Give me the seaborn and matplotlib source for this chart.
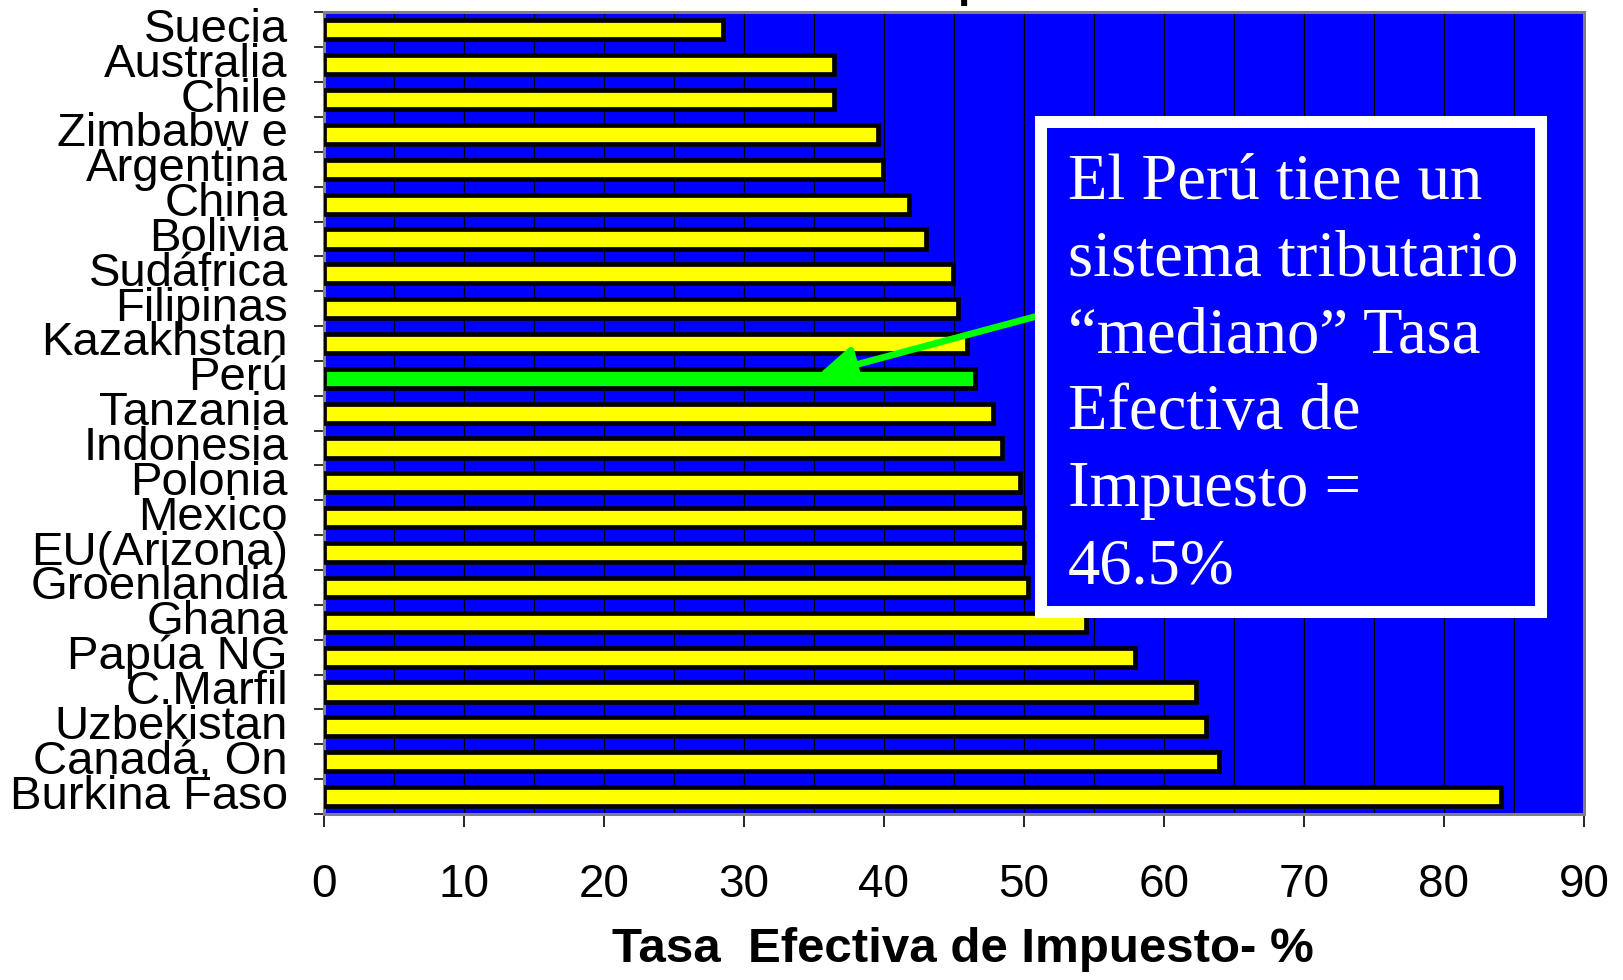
import matplotlib
matplotlib.use("Agg")
import matplotlib.pyplot as plt
import seaborn as sns
import pandas as pd
from matplotlib.patches import Rectangle
from matplotlib.ticker import MultipleLocator, FixedLocator, NullFormatter

countries = ["Suecia", "Australia", "Chile", "Zimbabw e", "Argentina", "China",
             "Bolivia", "Sudáfrica", "Filipinas", "Kazakhstan", "Perú", "Tanzania",
             "Indonesia", "Polonia", "Mexico", "EU(Arizona)", "Groenlandia", "Ghana",
             "Papúa NG", "C.Marfil", "Uzbekistan", "Canadá, On", "Burkina Faso"]
rates = [28.5, 36.4, 36.4, 39.6, 39.9, 41.8, 43.0, 44.9, 45.3, 45.9, 46.5, 47.8,
         48.4, 49.7, 50.0, 50.0, 50.3, 54.4, 57.9, 62.3, 63.0, 63.9, 84.1]
highlight = "Perú"
xticks = [0, 10, 20, 30, 40, 50, 60, 70, 80, 90]
xlabel = "Tasa  Efectiva de Impuesto- %"
note_lines = ["El Perú tiene un", "sistema tributario", "\u201cmediano\u201d Tasa",
              "Efectiva de", "Impuesto =", "46.5%"]

sns.set_theme(style="white")
plt.rcParams["font.family"] = ["Liberation Sans", "DejaVu Sans"]
plt.rcParams["text.color"] = "black"
plt.rcParams["axes.labelcolor"] = "black"
plt.rcParams["xtick.color"] = "black"
plt.rcParams["ytick.color"] = "black"

df = pd.DataFrame({"pais": countries, "tasa": rates})
palette = {c: ("#00FF00" if c == highlight else "#FFFF00") for c in countries}

fig = plt.figure(figsize=(16.23, 9.80), dpi=100)
ax = fig.add_axes([324 / 1623, 1 - 814 / 980, 1260 / 1623, (814 - 12.4) / 980])

sns.barplot(data=df, y="pais", x="tasa", hue="pais", palette=palette, legend=False,
            orient="h", width=0.55, edgecolor="black", linewidth=3.4, saturation=1,
            ax=ax, zorder=3)

ax.set_facecolor("#0000FF")
ax.set_xlim(0, 90)
ax.set_ylim(len(countries) - 0.5, -0.5)
ax.xaxis.set_major_locator(FixedLocator(xticks))
ax.xaxis.set_minor_locator(MultipleLocator(5))
ax.grid(False)
ax.set_axisbelow(True)
for v in range(0, 91, 5):
    ax.axvline(v, color="black", lw=0.9, zorder=1)

ax.tick_params(axis="x", which="major", direction="out", length=9, width=1.2,
               color="black", labelcolor="black", labelsize=33, pad=26, bottom=True)
ax.tick_params(axis="x", which="minor", length=0)
ax.yaxis.set_minor_locator(FixedLocator([i - 0.5 for i in range(len(countries) + 1)]))
ax.yaxis.set_minor_formatter(NullFormatter())
ax.tick_params(axis="y", which="major", length=0, labelsize=34, labelcolor="black", pad=26)
ax.tick_params(axis="y", which="minor", direction="out", length=7.5, width=1.3,
               color="#202020", left=True)
for lab in ax.get_yticklabels():
    lab.set_verticalalignment("center")

ax.set_ylabel("")
ax.set_xlabel(xlabel, fontsize=35.5, fontweight="bold", color="black")
ax.xaxis.set_label_coords((963 - 324) / 1260, -(950 - 814) / 802)
ax.xaxis.label.set_verticalalignment("center")

for side in ["left", "right", "top", "bottom"]:
    ax.spines[side].set_visible(True)
    ax.spines[side].set_color("#808080")
    ax.spines[side].set_linewidth(2.2)

# green arrow pointing to Peru
ax.annotate("", xy=(35.3, 9.9), xytext=(52.0, 8.1),
            arrowprops=dict(arrowstyle="-|>,head_length=1.1,head_width=0.55",
                            color="#00FF00", lw=4.8, mutation_scale=20,
                            shrinkA=0, shrinkB=0),
            zorder=5)

# annotation box
x0, x1 = (1035 - 324) / 1260, (1547 - 324) / 1260
y0, y1 = 1 - (618 - 12.4) / 802, 1 - (116 - 12.4) / 802
bw = 12 / 1260
bh = 12 / 802
ax.add_patch(Rectangle((x0, y0), x1 - x0, y1 - y0, transform=ax.transAxes,
                       facecolor="white", edgecolor="none", zorder=6))
ax.add_patch(Rectangle((x0 + bw, y0 + bh), x1 - x0 - 2 * bw, y1 - y0 - 2 * bh,
                       transform=ax.transAxes, facecolor="#0000FF",
                       edgecolor="none", zorder=7))
ax.text((1068 - 324) / 1260, 1 - (153 - 12.4) / 802, "\n".join(note_lines),
        transform=ax.transAxes, ha="left", va="top", color="white", fontsize=46.5,
        family=["Liberation Serif", "DejaVu Serif"], linespacing=1.385, zorder=8)

# clipped title remnant at the top edge
fig.text(971 / 1623, 1 + 3 / 980, "p", ha="center", va="baseline",
         fontsize=32, fontweight="bold", color="black")

fig.savefig("out.png", dpi=100, facecolor="white")
